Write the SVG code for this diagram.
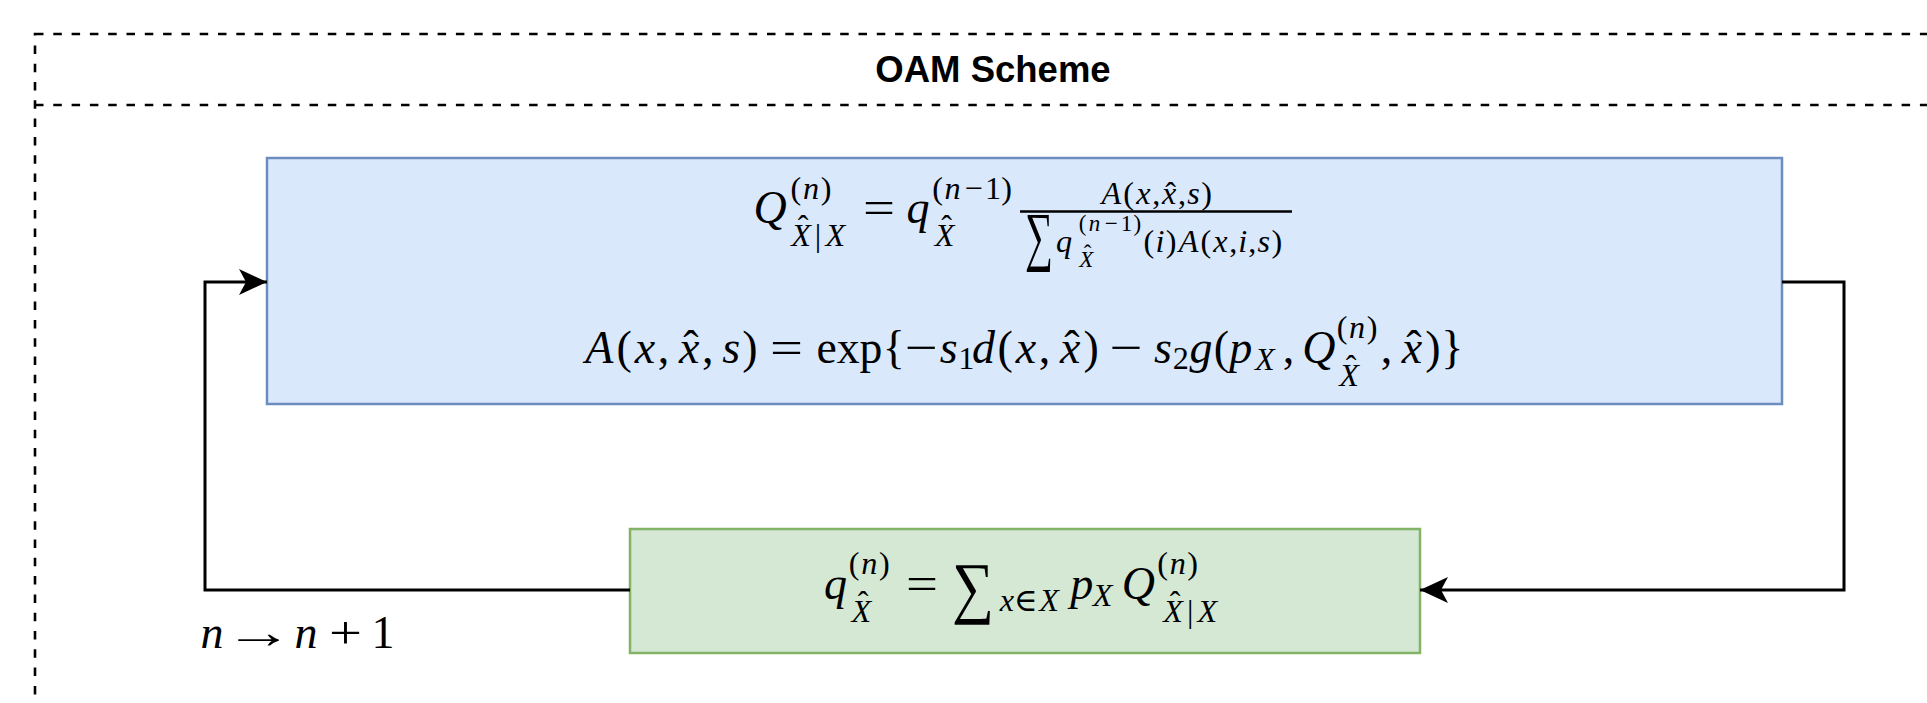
<svg xmlns="http://www.w3.org/2000/svg" width="1927" height="703" viewBox="0 0 1927 703">
<style>
.frame{fill:none;stroke:#000;stroke-width:2.6;stroke-dasharray:8.5 9.8}
.title{font-family:"Liberation Sans",Arial,sans-serif;font-weight:bold;font-size:36.5px;text-anchor:middle;fill:#000}
.blue{fill:#dae8fc;stroke:#6c8ebf;stroke-width:2.5}
.green{fill:#d5e8d4;stroke:#82b366;stroke-width:2.5}
.edge{fill:none;stroke:#000;stroke-width:3}
.mi{font-family:"Liberation Serif","DejaVu Serif",serif;font-style:italic;text-anchor:middle;fill:#000}
.mr{font-family:"Liberation Serif","DejaVu Serif",serif;text-anchor:middle;fill:#000}
.st{text-anchor:start}
.L{font-size:46px}
.M{font-size:32.2px}
.S{font-size:23px}
</style>
<defs>
<marker id="arrow" markerUnits="userSpaceOnUse" markerWidth="30" markerHeight="28" refX="28" refY="13" orient="auto">
<path d="M0,0 L28,13 L0,26 L7,13 Z" fill="#000"/>
</marker>
</defs>

<g id="container">
<rect class="frame" x="35" y="34" width="1916" height="720"/>
<line class="frame" x1="35" y1="105" x2="1951" y2="105"/>
<text class="title" x="993" y="82">OAM Scheme</text>
</g>

<g id="node-oam-update">
<rect class="blue" x="267" y="158" width="1515" height="246"/>
<text class="mi L" x="770" y="223">Q</text>
<text class="mr M" x="795.9 826" y="199">()</text>
<text class="mi M" x="811" y="199">n</text>
<text class="mi M" x="801 835.4" y="246">XX</text>
<text class="mr M" x="818.1" y="246">|</text>
<text class="mr M" x="803" y="237">ˆ</text>
<text class="mr L st" x="863" y="223" textLength="32" lengthAdjust="spacingAndGlyphs">=</text>
<text class="mi L" x="918" y="223">q</text>
<text class="mr M" x="937.6 973.7 993.1 1006.6" y="199">(−1)</text>
<text class="mi M" x="952.6" y="199">n</text>
<text class="mi M" x="944.6" y="246">X</text>
<text class="mr M" x="946.5" y="237">ˆ</text>
<line x1="1020" y1="211.5" x2="1292" y2="211.5" stroke="#000" stroke-width="2.6"/>
<text class="mi M" x="1111.4 1143.3 1169.2 1193.5" y="204">Axxs</text>
<text class="mr M" x="1128.7 1156.2 1182.1 1206.6" y="204">(,,)</text>
<text class="mr M" x="1170.5" y="204">ˆ</text>
<text class="mr st" x="1025" y="258" font-size="66" textLength="28" lengthAdjust="spacingAndGlyphs">∑</text>
<text class="mi M" x="1064" y="252">q</text>
<text class="mr S" x="1082.7 1111.2 1126.5 1137.3" y="231">(−1)</text>
<text class="mi S" x="1094.6" y="231">n</text>
<text class="mi S" x="1086.3" y="267">X</text>
<text class="mr S" x="1087.5" y="260.5">ˆ</text>
<text class="mr M" x="1148.9 1171.2 1205.8 1233.3 1252.3 1276.8" y="252">()(,,)</text>
<text class="mi M" x="1160 1188.5 1220.4 1242.8 1263.7" y="252">iAxis</text>
<text class="mi L" x="599.3 645 689.2 731.2 948.6 983.5 1026 1070.2 1163 1201 1240.8 1318.9 1412" y="363">AxxssdxxsgpQx</text>
<text class="mr L" x="624.1 663.5 707.8 749.9 893.7 1005.2 1044.6 1091.2 1221.5 1288.4 1386.4 1433 1452.3" y="363">(,,){(,)(,,)}</text>
<text class="mr L" x="691 1072 1414" y="363">ˆˆˆ</text>
<text class="mr L st" x="770" y="363" textLength="33" lengthAdjust="spacingAndGlyphs">=</text>
<text class="mr L st" x="816.4" y="363" textLength="66" lengthAdjust="spacingAndGlyphs">exp</text>
<text class="mr L st" x="905" y="363" textLength="33" lengthAdjust="spacingAndGlyphs">−</text>
<text class="mr L st" x="1109.7" y="363" textLength="33" lengthAdjust="spacingAndGlyphs">−</text>
<text class="mr M" x="966.4 1180.8" y="369">12</text>
<text class="mi M" x="1264.8" y="370">X</text>
<text class="mr M" x="1342 1372.1" y="338">()</text>
<text class="mi M" x="1357" y="338">n</text>
<text class="mi M" x="1349.1" y="386">X</text>
<text class="mr M" x="1351" y="377">ˆ</text>
</g>

<g id="node-marginal">
<rect class="green" x="630" y="529" width="790" height="124"/>
<text class="mi L" x="835.5 1081.7 1138.3" y="599">qpQ</text>
<text class="mr M" x="854.2 884.3 1162.6 1192.7" y="574">()()</text>
<text class="mi M" x="869.3 1177.7" y="574">nn</text>
<text class="mi M" x="861.3 1173 1207.4" y="622">XXX</text>
<text class="mr M" x="1190.2" y="622">|</text>
<text class="mr M" x="863 1175" y="613">ˆˆ</text>
<text class="mr L st" x="906" y="599" textLength="32" lengthAdjust="spacingAndGlyphs">=</text>
<text class="mr st" x="952" y="610" font-size="68" textLength="42" lengthAdjust="spacingAndGlyphs">∑</text>
<text class="mi M" x="1007 1049" y="611">xX</text>
<text class="mr M" x="1025.9" y="611">∈</text>
<text class="mi M" x="1102.5" y="606">X</text>
</g>

<g id="connectors">
<path class="edge" d="M630,590 H205 V282 H267" marker-end="url(#arrow)"/>
<path class="edge" d="M1782,282 H1844 V590 H1420" marker-end="url(#arrow)"/>
</g>

<g id="label-iteration">
<text class="mi L" x="212 306" y="648">nn</text>
<text class="mr L" transform="translate(259,648) scale(1.5,1)" x="0" y="0">→</text>
<text class="mr L st" x="329" y="648" textLength="33" lengthAdjust="spacingAndGlyphs">+</text>
<text class="mr L" x="383" y="648">1</text>
</g>
</svg>
